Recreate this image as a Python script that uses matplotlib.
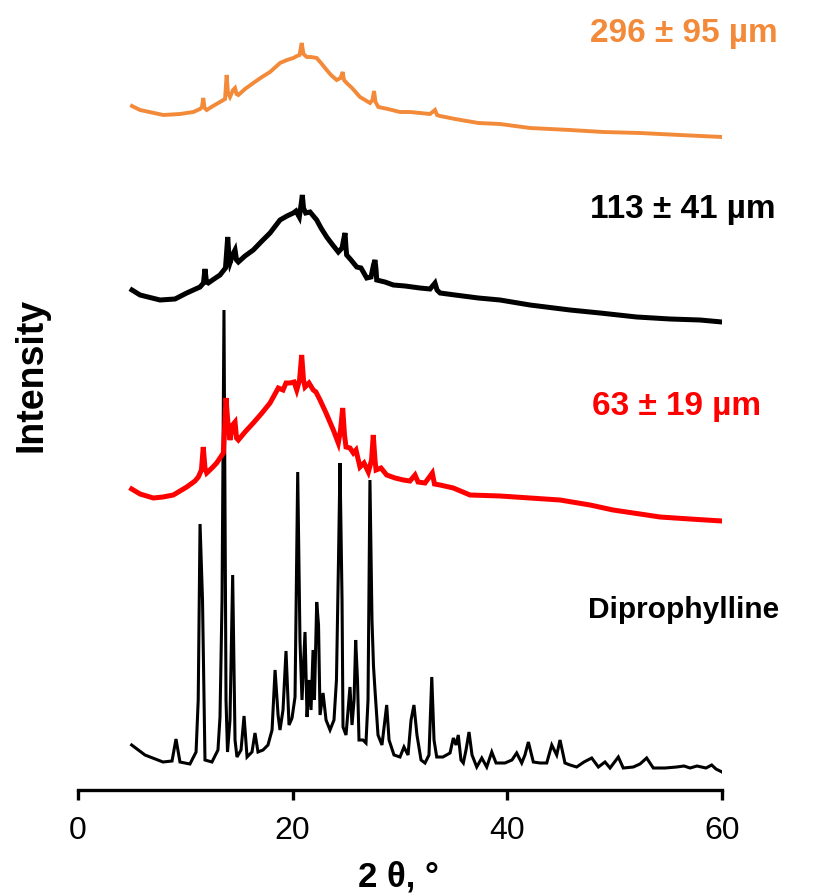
import matplotlib
matplotlib.use("Agg")
import matplotlib.pyplot as plt

plt.rcParams["font.family"] = ["Liberation Sans", "DejaVu Sans"]

# -----------------------------
# Diffractogram data (2theta in degrees, intensity in a.u. above each trace's minimum)
# -----------------------------
dip_2theta = [5.0, 6.24, 7.92, 8.76, 9.13, 9.5, 10.43, 11.0, 11.2, 11.37, 11.6, 11.83,
              12.48, 13.04, 13.23, 13.42, 13.6, 13.79, 13.93, 14.16, 14.41, 14.63, 14.81,
              15.19, 15.47, 15.75, 16.21, 16.49, 16.77, 17.24, 17.7, 18.08, 18.36, 18.64,
              18.82, 19.1, 19.38, 19.66, 19.94, 20.22, 20.47, 20.68, 20.87, 21.15, 21.34,
              21.52, 21.71, 21.9, 22.03, 22.24, 22.41, 22.55, 22.83, 23.11, 23.48, 23.85,
              24.08, 24.27, 24.41, 24.6, 24.69, 24.97, 25.16, 25.34, 25.53, 25.72, 25.87,
              26.04, 26.18, 26.55, 26.83, 27.02, 27.2, 27.39, 27.53, 27.67, 27.95, 28.32,
              28.76, 28.98, 29.44, 30.0, 30.37, 30.75, 31.03, 31.3, 31.58, 31.96, 32.33,
              32.7, 32.96, 33.17, 33.42, 34.0, 34.66, 34.97, 35.22, 35.43, 35.68, 35.9,
              36.15, 36.43, 36.71, 37.15, 37.62, 38.08, 38.55, 38.95, 39.78, 40.43, 40.87,
              41.34, 41.64, 41.96, 42.42, 43.05, 43.67, 44.14, 44.6, 44.91, 45.37, 45.84,
              46.46, 47.14, 47.86, 48.48, 49.1, 49.57, 50.34, 50.8, 51.74, 52.36, 52.98,
              53.6, 54.69, 55.78, 56.46, 57.02, 57.67, 58.11, 58.51, 59.04, 59.44, 60.0]
dip_int = [27, 17, 10, 11, 33, 10, 8, 20, 72, 248, 172, 12,
           10, 22, 55, 172, 462, 72, 20, 52, 197, 32, 15,
           22, 56, 15, 20, 39, 20, 22, 27, 42, 102, 57,
           42, 62, 121, 47, 54, 75, 300, 132, 72, 140, 55,
           92, 62, 122, 72, 170, 147, 57, 79, 52, 42, 52,
           92, 212, 309, 172, 45, 37, 62, 85, 47, 72, 132,
           92, 32, 32, 29, 72, 292, 152, 106, 82, 37, 27,
           67, 32, 17, 15, 25, 17, 52, 67, 37, 12, 9,
           17, 95, 32, 15, 15, 19, 34, 27, 37, 12, 9,
           22, 40, 17, 5, 14, 5, 20, 9, 9, 12, 19,
           9, 17, 30, 10, 9, 9, 27, 17, 32, 9, 7,
           5, 10, 14, 5, 10, 4, 15, 4, 5, 8, 14,
           4, 4, 5, 6, 4, 6, 5, 4, 7, 3, 0]

s63_2theta = [5.0, 5.78, 7.02, 7.92, 8.88, 10.13, 10.9, 11.21, 11.5, 11.67, 11.83, 11.99,
              12.48, 12.92, 13.23, 13.54, 13.65, 13.79, 13.98, 14.16, 14.4, 14.63, 14.77,
              14.94, 15.56, 16.33, 17.14, 17.89, 18.66, 19.1, 19.38, 19.75, 20.13, 20.38,
              20.64, 20.84, 21.01, 21.15, 21.52, 21.92, 22.17, 22.55, 23.11, 23.79, 24.25,
              24.46, 24.66, 24.83, 24.97, 25.34, 25.65, 25.9, 26.27, 26.65, 27.05, 27.35,
              27.51, 27.67, 27.77, 28.23, 28.76, 29.54, 30.31, 30.93, 31.4, 31.68, 32.33,
              33.01, 33.21, 33.73, 34.97, 36.52, 39.32, 42.11, 44.91, 47.71, 49.85, 52.36,
              54.22, 57.02, 60.0]
s63_int = [32, 27, 23, 24, 26, 34, 40, 44, 51, 74, 53, 48,
           53, 58, 63, 68, 91, 123, 96, 81, 96, 99, 83,
           81, 89, 98, 108, 118, 133, 131, 138, 138, 139, 131,
           141, 166, 141, 134, 138, 131, 129, 121, 108, 91, 78,
           91, 113, 86, 74, 73, 68, 71, 54, 58, 49, 61,
           86, 61, 51, 53, 46, 43, 41, 40, 46, 39, 38,
           48, 37, 36, 33, 26, 25, 23, 21, 16, 11, 7,
           4, 2, 0]

s113_2theta = [5.03, 5.78, 7.64, 9.04, 10.13, 11.37, 11.69, 11.83, 11.97, 12.14, 12.67,
               13.23, 13.74, 13.95, 14.07, 14.16, 14.44, 14.63, 14.77, 14.94, 15.56, 16.33,
               17.14, 17.89, 18.82, 19.47, 20.06, 20.31, 20.62, 20.78, 20.9, 21.01, 21.21,
               21.62, 22.24, 22.64, 23.17, 23.66, 24.25, 24.6, 24.74, 24.88, 24.97, 25.03,
               25.44, 25.97, 26.37, 26.9, 27.3, 27.53, 27.67, 27.77, 27.83, 28.6, 29.38,
               30.47, 31.86, 32.8, 33.26, 33.45, 33.73, 35.13, 37.3, 39.32, 42.11, 45.84,
               48.64, 52.05, 55.16, 57.95, 60.0]
s113_int = [32, 27, 22, 23, 29, 35, 39, 53, 40, 39, 43,
            47, 54, 85, 64, 59, 68, 72, 62, 60, 66, 72,
            81, 89, 102, 106, 109, 111, 105, 117, 127, 114, 109,
            110, 102, 94, 85, 78, 70, 74, 82, 89, 74, 67,
            62, 55, 54, 44, 45, 57, 62, 52, 42, 40, 37,
            36, 34, 33, 39, 32, 29, 27, 24, 22, 17, 12,
            9, 5, 3, 2, 0]

s296_2theta = [5.03, 5.78, 7.95, 9.5, 10.74, 11.37, 11.55, 11.67, 11.79, 11.99, 12.58,
               13.23, 13.7, 13.85, 13.97, 14.16, 14.44, 14.63, 14.77, 14.94, 15.56, 16.33,
               17.14, 17.89, 18.82, 19.47, 20.06, 20.4, 20.64, 20.84, 21.01, 21.31, 21.71,
               22.24, 22.64, 23.17, 23.57, 24.1, 24.46, 24.66, 24.78, 25.03, 25.53, 26.27,
               26.74, 27.2, 27.44, 27.58, 27.72, 27.98, 28.88, 30.0, 30.93, 31.86, 32.8,
               33.26, 33.45, 33.73, 35.13, 37.3, 39.32, 42.11, 45.84, 48.94, 52.36, 56.09,
               60.0]
s296_int = [31, 27, 22, 23, 25, 28, 30, 39, 29, 27, 31,
            35, 38, 62, 44, 40, 47, 49, 43, 42, 48, 54,
            60, 65, 74, 77, 79, 81, 82, 94, 83, 80, 80,
            79, 74, 67, 62, 57, 59, 65, 57, 54, 49, 40,
            37, 34, 37, 46, 35, 30, 28, 25, 25, 24, 23,
            27, 22, 21, 18, 14, 13, 9, 7, 5, 4, 2,
            0]

labels = ["Diprophylline", "63 \u00b1 19 \u00b5m", "113 \u00b1 41 \u00b5m", "296 \u00b1 95 \u00b5m"]
x_ticks = [0, 20, 40, 60]

# -----------------------------
# Figure layout (pixel geometry of the 822x894 canvas)
# -----------------------------
W, H = 822, 894
fig = plt.figure(figsize=(W / 100, H / 100), dpi=100)
ax = fig.add_axes([78 / W, 1 - 790 / H, (722 - 78) / W, 790 / H])

offsets = [18, 269, 468, 653]
colors = ["black", "#ff0000", "black", "#f28a3a"]
widths = [2.2, 3.6, 3.6, 2.8]
series = [(dip_2theta, dip_int), (s63_2theta, s63_int),
          (s113_2theta, s113_int), (s296_2theta, s296_int)]

for (xs, ys), off, c, lw in zip(series, offsets, colors, widths):
    ax.plot(xs, [v + off for v in ys], color=c, lw=lw, solid_joinstyle="miter")

ax.set_xlim(0, 60)
ax.set_ylim(0, 790)
ax.set_xticks(x_ticks)
ax.set_xticklabels([str(t) for t in x_ticks])
ax.set_yticks([])
for side in ["left", "right", "top"]:
    ax.spines[side].set_visible(False)
ax.spines["bottom"].set_linewidth(2.4)
ax.tick_params(axis="x", direction="out", length=7, width=2.4, labelsize=23, pad=12)

# axis titles
fig.text(398 / W, 1 - 887 / H, "2 \u03b8, \u00b0", fontsize=25, fontweight="bold",
         ha="center", va="baseline")
fig.text(32 / W, 1 - 375 / H, "Intensity", fontsize=27, fontweight="bold",
         rotation=90, ha="center", va="center")

# trace labels
label_pos = [(588, 618, 21.5), (592, 415, 24), (590, 218, 24), (590, 42, 24)]
for text, (px, py, fs), c in zip(labels, label_pos, colors):
    fig.text(px / W, 1 - py / H, text, fontsize=fs, fontweight="bold",
             color=c, ha="left", va="baseline")

fig.savefig("out.png", dpi=100)
